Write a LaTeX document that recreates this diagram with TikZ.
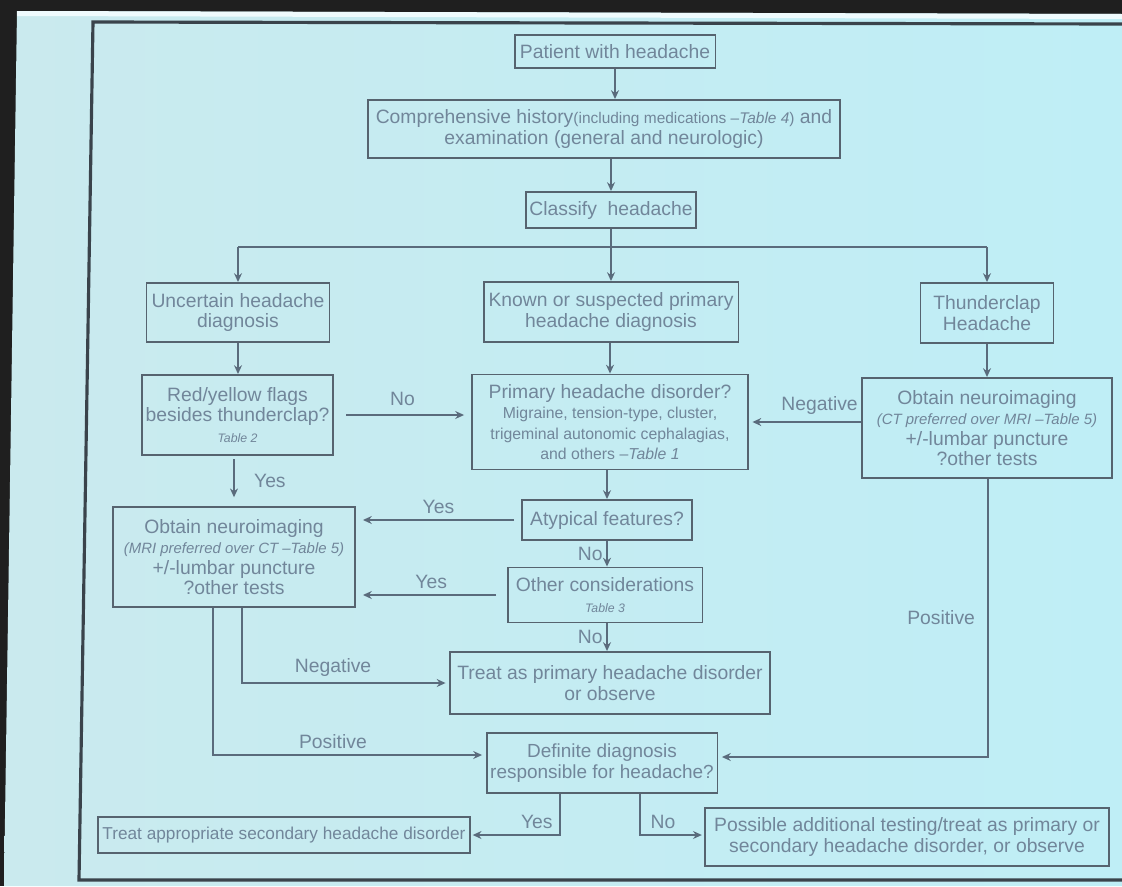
\documentclass[tikz,border=0pt]{standalone}
\usepackage{fontspec}
\setmainfont{Liberation Sans}
\usetikzlibrary{arrows.meta,calc}
\definecolor{slidebg}{HTML}{BFEEF6}
\definecolor{slidebgL}{HTML}{CAEAEE}
\definecolor{boxline}{HTML}{56636F}
\definecolor{txt}{HTML}{71869A}
\definecolor{conn}{HTML}{5A6B7C}
\definecolor{framec}{HTML}{3A434B}
\newcommand{\fsz}[1]{\fontsize{#1}{#1}\selectfont}
\begin{document}
\begin{tikzpicture}[x=0.02cm,y=-0.02cm,
  bx/.style 2 args={draw=boxline, line width=1.1pt,
    minimum width=#1*0.569pt, minimum height=#2*0.569pt,
    inner sep=1pt, align=center, text=txt,
    font=\fontsize{11}{11.6}\selectfont},
  arr/.style={draw=conn, line width=0.9pt, -{Stealth[length=5pt,width=4.5pt]}},
  ln/.style={draw=conn, line width=0.9pt},
  lab/.style={text=txt, font=\fontsize{11}{12}\selectfont, inner sep=1pt}]
\useasboundingbox (0,0) rectangle (1122,886);
% photo background
\fill[black!88] (0,0) rectangle (1122,886);
\shade[left color=slidebgL, right color=slidebg] (17,11) -- (1122,14) -- (1122,886) -- (4,886) -- cycle;
\fill[white!75!slidebg] (17,11) -- (1122,14) -- (1122,19) -- (17,16) -- cycle;
\draw[framec, line width=1.8pt] (1122,24) -- (93,22) -- (79,880) -- (1122,880);

% nodes
\node[bx={201}{33}] (patient) at (615,51.5) {Patient with headache};
\node[bx={472}{58}] (comp) at (604,129) {Comprehensive history{\fsz{8.8}(including medications --\textit{Table 4})} and\\examination (general and neurologic)};
\node[bx={170}{36}] (classify) at (611,210) {Classify \ headache};
\node[bx={183}{59}] (uncertain) at (238,312.5) {Uncertain headache\\diagnosis};
\node[bx={255}{60}] (known) at (611,312) {Known or suspected primary\\headache diagnosis};
\node[bx={133}{60}] (thunder) at (987,313) {Thunderclap\\Headache};
\node[bx={191}{80}] (redflag) at (237.5,415) {Red/yellow flags\\besides thunderclap?\\{\fsz{7}\itshape Table 2}};
\node[bx={276}{95}] (primary) at (610,422) {Primary headache disorder?\\{\fsz{9}Migraine, tension-type, cluster,}\\{\fsz{9}trigeminal autonomic cephalagias,}\\{\fsz{9}and others --\textit{Table 1}}};
\node[bx={250}{100}] (ct) at (987,428) {Obtain neuroimaging\\{\fsz{8.5}\itshape (CT preferred over MRI --Table 5)}\\+/-lumbar puncture\\?other tests};
\node[bx={242}{100}] (mri) at (234,557) {Obtain neuroimaging\\{\fsz{8.5}\itshape (MRI preferred over CT --Table 5)}\\+/-lumbar puncture\\?other tests};
\node[bx={170}{40}] (atypical) at (607,520) {Atypical features?};
\node[bx={195}{55}] (other) at (605,595) {Other considerations\\{\fsz{7}\itshape Table 3}};
\node[bx={320}{62}] (treat1) at (610,683) {Treat as primary headache disorder\\or observe};
\node[bx={231}{60}, font=\fontsize{10.8}{11.8}\selectfont] (definite) at (602,763) {Definite diagnosis\\responsible for headache?};
\node[bx={372}{36}, font=\fontsize{9.8}{11}\selectfont] (treat2) at (284,835) {Treat appropriate secondary headache disorder};
\node[bx={405}{58}] (possible) at (907,837) {Possible additional testing/treat as primary or\\secondary headache disorder, or observe};

% connectors
\draw[arr] (patient.south) -- (patient.south |- comp.north);
\draw[arr] (classify.north |- comp.south) -- (classify.north);
\coordinate (br) at (611,247);
\coordinate (brL) at (238,247);
\coordinate (brR) at (987,247);
\draw[ln] (classify.south) -- (br);
\draw[ln] (brL) -- (brR);
\draw[arr] (brL) -- (uncertain.north);
\draw[arr] (br) -- (known.north);
\draw[arr] (brR) -- (thunder.north);
\draw[arr] (uncertain.south) -- (uncertain.south |- redflag.north);
\draw[arr] (known.south -| primary.north) -- (primary.north);
\draw[arr] (thunder.south) -- (thunder.south |- ct.north);

\draw[arr, shorten <=7pt, shorten >=4pt] (redflag.east) -- (redflag.east -| primary.west) node[midway, above=4pt, lab] {No};
\draw[arr, shorten >=2pt] (ct.west |- primary.east) -- (primary.east) node[pos=0.37, above=3pt, lab] {Negative};
\draw[arr, shorten <=2pt, shorten >=5pt] (mri.north |- redflag.south) -- (mri.north) node[midway, right=10pt, lab] {Yes};
\draw[arr] (primary.south -| atypical.north) -- (atypical.north);
\draw[arr, shorten <=4pt, shorten >=4pt] (atypical.west) -- (atypical.west -| mri.east) node[midway, above=2pt, lab] {Yes};
\draw[arr] (atypical.south) -- (atypical.south |- other.north) node[midway, left=1pt, lab] {No};
\draw[arr, shorten <=6pt, shorten >=4pt] (other.west) -- (other.west -| mri.east) node[midway, above=2pt, lab] {Yes};
\draw[arr] (atypical.south |- other.south) -- (atypical.south |- treat1.north) node[midway, left=1pt, lab] {No};
\draw[arr, shorten >=2pt] ($(mri.south)+(8,0)$) |- (treat1.west) node[pos=0.72, above=2pt, lab] {Negative};
\draw[arr, shorten >=2pt] ($(mri.south)+(-21,0)$) |- ($(definite.west)+(0,-8)$) node[pos=0.72, above=2pt, lab] {Positive};
\draw[arr, shorten >=2pt] ($(ct.south)+(1,0)$) |- ($(definite.east)+(0,-6)$) node[pos=0.25, left=6pt, lab] {Positive};
\draw[arr, shorten >=1pt] ($(definite.south)+(-42,0)$) |- (treat2.east) node[pos=0.63, above=2pt, lab] {Yes};
\draw[arr, shorten >=1pt] ($(definite.south)+(38,0)$) |- ($(possible.west)+(0,-2)$) node[pos=0.68, above=2pt, lab] {No};
\end{tikzpicture}
\end{document}
